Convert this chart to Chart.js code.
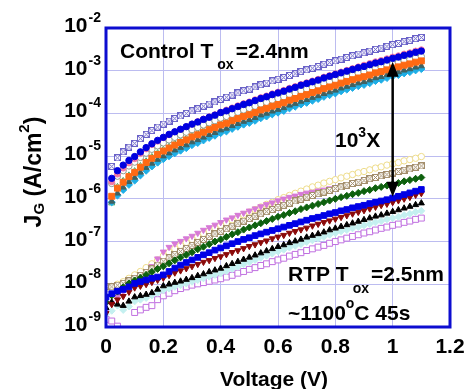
<!DOCTYPE html>
<html lang="en">
<head>
<meta charset="UTF-8">
<title>J_G vs Voltage</title>
<script src="https://cdn.jsdelivr.net/npm/chart.js"></script>
<style>
  body { margin: 0; background: #ffffff; }
  canvas { display: block; }
</style>
</head>
<body>
<canvas id="jgChart" width="471" height="389"></canvas>
<script>
// gate voltage (V)
const volts = [0, 0.02, 0.04, 0.06, 0.08, 0.1, 0.12, 0.14, 0.16, 0.18,
  0.2, 0.22, 0.24, 0.26, 0.28, 0.3, 0.32, 0.34, 0.36, 0.38,
  0.4, 0.42, 0.44, 0.46, 0.48, 0.5, 0.52, 0.54, 0.56, 0.58,
  0.6, 0.62, 0.64, 0.66, 0.68, 0.7, 0.72, 0.74, 0.76, 0.78,
  0.8, 0.82, 0.84, 0.86, 0.88, 0.9, 0.92, 0.94, 0.96, 0.98,
  1, 1.02, 1.04, 1.06, 1.08, 1.1];
const ctrlVolts = volts.slice(1); // control wafers start at 0.02 V

// log10 J_G (A/cm2) - control Tox = 2.4nm
const ctrlPurple = [-5.24, -5.04, -4.90, -4.79, -4.70, -4.59, -4.49, -4.40, -4.32, -4.25,
  -4.18, -4.12, -4.06, -4.00, -3.94, -3.89, -3.83, -3.78, -3.73, -3.67,
  -3.62, -3.57, -3.52, -3.47, -3.43, -3.38, -3.33, -3.29, -3.24, -3.20,
  -3.16, -3.11, -3.07, -3.02, -2.98, -2.94, -2.90, -2.85, -2.81, -2.77,
  -2.73, -2.69, -2.65, -2.61, -2.58, -2.54, -2.50, -2.47, -2.43, -2.39,
  -2.36, -2.32, -2.29, -2.25, -2.22];
const ctrlPink = [-5.60, -5.42, -5.28, -5.16, -5.06, -4.94, -4.83, -4.73, -4.65, -4.57,
  -4.50, -4.43, -4.37, -4.31, -4.25, -4.19, -4.13, -4.08, -4.03, -3.97,
  -3.92, -3.87, -3.82, -3.77, -3.73, -3.68, -3.63, -3.59, -3.54, -3.50,
  -3.46, -3.41, -3.37, -3.32, -3.28, -3.24, -3.20, -3.15, -3.11, -3.07,
  -3.03, -2.99, -2.95, -2.91, -2.87, -2.83, -2.79, -2.76, -2.72, -2.68,
  -2.65, -2.61, -2.58, -2.54, -2.51];
const ctrlBlue = [-5.52, -5.34, -5.21, -5.10, -5.01, -4.90, -4.80, -4.71, -4.63, -4.56,
  -4.49, -4.43, -4.37, -4.31, -4.25, -4.20, -4.14, -4.09, -4.04, -3.98,
  -3.94, -3.89, -3.84, -3.79, -3.75, -3.70, -3.65, -3.61, -3.56, -3.52,
  -3.48, -3.43, -3.39, -3.34, -3.30, -3.26, -3.22, -3.17, -3.13, -3.09,
  -3.05, -3.01, -2.97, -2.93, -2.90, -2.86, -2.82, -2.79, -2.75, -2.71,
  -2.68, -2.64, -2.61, -2.57, -2.54];
const ctrlOpenCircle = [-5.64, -5.47, -5.34, -5.23, -5.14, -5.03, -4.93, -4.84, -4.76, -4.69,
  -4.62, -4.56, -4.50, -4.44, -4.38, -4.33, -4.27, -4.22, -4.17, -4.11,
  -4.07, -4.02, -3.97, -3.92, -3.88, -3.83, -3.78, -3.74, -3.69, -3.65,
  -3.61, -3.56, -3.52, -3.47, -3.43, -3.39, -3.35, -3.30, -3.26, -3.22,
  -3.18, -3.14, -3.10, -3.06, -3.03, -2.99, -2.95, -2.92, -2.88, -2.84,
  -2.81, -2.77, -2.74, -2.70, -2.67];
const ctrlGreenTri = [-6.10, -5.72, -5.58, -5.45, -5.35, -5.23, -5.12, -5.02, -4.93, -4.85,
  -4.78, -4.71, -4.65, -4.59, -4.52, -4.47, -4.41, -4.35, -4.30, -4.24,
  -4.20, -4.14, -4.09, -4.04, -4.00, -3.95, -3.89, -3.85, -3.80, -3.76,
  -3.72, -3.66, -3.62, -3.57, -3.53, -3.48, -3.44, -3.39, -3.35, -3.31,
  -3.26, -3.22, -3.18, -3.14, -3.11, -3.07, -3.02, -2.99, -2.95, -2.91,
  -2.88, -2.84, -2.81, -2.77, -2.74];
const ctrlOrange = [-5.94, -5.75, -5.61, -5.48, -5.38, -5.26, -5.15, -5.05, -4.96, -4.88,
  -4.81, -4.74, -4.68, -4.62, -4.55, -4.50, -4.44, -4.38, -4.33, -4.27,
  -4.23, -4.17, -4.12, -4.07, -4.03, -3.98, -3.92, -3.88, -3.83, -3.79,
  -3.75, -3.69, -3.65, -3.60, -3.56, -3.51, -3.47, -3.42, -3.38, -3.34,
  -3.29, -3.25, -3.21, -3.17, -3.14, -3.10, -3.05, -3.02, -2.98, -2.94,
  -2.91, -2.87, -2.84, -2.80, -2.77];
const ctrlSlate = [-6.06, -5.87, -5.73, -5.60, -5.50, -5.38, -5.27, -5.17, -5.08, -5.00,
  -4.93, -4.86, -4.80, -4.74, -4.67, -4.62, -4.56, -4.50, -4.45, -4.39,
  -4.35, -4.29, -4.24, -4.19, -4.15, -4.10, -4.04, -4.00, -3.95, -3.91,
  -3.87, -3.81, -3.77, -3.72, -3.68, -3.63, -3.59, -3.54, -3.50, -3.46,
  -3.41, -3.37, -3.33, -3.29, -3.26, -3.22, -3.17, -3.14, -3.10, -3.06,
  -3.03, -2.99, -2.96, -2.92, -2.89];
const ctrlCyan = [-6.08, -5.92, -5.79, -5.67, -5.57, -5.45, -5.34, -5.24, -5.15, -5.07,
  -5.00, -4.93, -4.87, -4.81, -4.74, -4.69, -4.63, -4.57, -4.52, -4.46,
  -4.42, -4.36, -4.31, -4.26, -4.22, -4.17, -4.11, -4.07, -4.02, -3.98,
  -3.94, -3.88, -3.84, -3.79, -3.75, -3.70, -3.66, -3.61, -3.57, -3.53,
  -3.48, -3.44, -3.40, -3.36, -3.33, -3.29, -3.24, -3.21, -3.17, -3.13,
  -3.10, -3.06, -3.03, -2.99, -2.96];

// log10 J_G (A/cm2) - RTP Tox = 2.5nm
const rtpYellow = [-8.10, -8.05, -8.00, -7.94, -7.86, -7.78, -7.70, -7.61, -7.52, -7.43,
  -7.34, -7.25, -7.17, -7.09, -7.02, -6.95, -6.88, -6.81, -6.75, -6.68,
  -6.62, -6.56, -6.49, -6.43, -6.37, -6.31, -6.25, -6.19, -6.13, -6.08,
  -6.02, -5.97, -5.92, -5.87, -5.82, -5.77, -5.72, -5.68, -5.63, -5.59,
  -5.55, -5.51, -5.47, -5.43, -5.39, -5.36, -5.32, -5.28, -5.25, -5.21,
  -5.18, -5.15, -5.11, -5.08, -5.05, -5.01];
const rtpPink = [-8.62, -8.44, -8.28, -8.17, -8.08, -7.98, -7.88, -7.76, -7.58, -7.40,
  -7.24, -7.13, -7.05, -6.99, -6.93, -6.87, -6.80, -6.73, -6.67, -6.61,
  -6.55, -6.49, -6.44, -6.38, -6.33, -6.28, -6.23, -6.18, -6.13, -6.09,
  -6.04, -6.00, -5.96, -5.93, -5.89, -5.86, -5.84, -5.81, -5.79, -5.76,
  -5.74, -5.70, -5.66, -5.62, -5.59, -5.55, -5.51, -5.48, -5.44, -5.41,
  -5.38, -5.34, -5.31, -5.28, -5.24, -5.21];
const rtpTan = [-8.05, -8.06, -8.02, -7.98, -7.92, -7.86, -7.79, -7.72, -7.64, -7.55,
  -7.46, -7.38, -7.30, -7.23, -7.16, -7.09, -7.02, -6.95, -6.88, -6.82,
  -6.76, -6.70, -6.64, -6.58, -6.52, -6.46, -6.41, -6.35, -6.30, -6.25,
  -6.20, -6.15, -6.10, -6.05, -6.01, -5.96, -5.92, -5.88, -5.84, -5.80,
  -5.76, -5.72, -5.68, -5.64, -5.61, -5.57, -5.53, -5.50, -5.46, -5.43,
  -5.40, -5.36, -5.33, -5.30, -5.26, -5.23];
const rtpGreen = [-8.42, -8.26, -8.17, -8.07, -7.98, -7.91, -7.85, -7.78, -7.71, -7.64,
  -7.58, -7.51, -7.44, -7.37, -7.31, -7.25, -7.18, -7.12, -7.06, -7.00,
  -6.95, -6.89, -6.83, -6.78, -6.72, -6.67, -6.62, -6.57, -6.52, -6.47,
  -6.42, -6.38, -6.33, -6.29, -6.24, -6.20, -6.16, -6.12, -6.08, -6.04,
  -6.00, -5.96, -5.93, -5.89, -5.86, -5.82, -5.79, -5.75, -5.72, -5.69,
  -5.66, -5.63, -5.59, -5.56, -5.53, -5.50];
const rtpBlue = [-8.30, -8.22, -8.16, -8.12, -8.06, -7.98, -7.94, -7.90, -7.86, -7.83,
  -7.78, -7.70, -7.62, -7.55, -7.49, -7.43, -7.37, -7.31, -7.26, -7.20,
  -7.15, -7.10, -7.05, -7.00, -6.95, -6.91, -6.86, -6.82, -6.78, -6.74,
  -6.70, -6.66, -6.62, -6.58, -6.54, -6.50, -6.46, -6.43, -6.39, -6.35,
  -6.32, -6.28, -6.25, -6.21, -6.18, -6.15, -6.11, -6.08, -6.05, -6.02,
  -5.98, -5.94, -5.90, -5.86, -5.82, -5.78];
const rtpRed = [-8.68, -8.47, -8.36, -8.28, -8.18, -8.08, -8.04, -8.00, -7.95, -7.90,
  -7.85, -7.79, -7.73, -7.68, -7.63, -7.58, -7.53, -7.48, -7.44, -7.39,
  -7.35, -7.30, -7.25, -7.21, -7.16, -7.11, -7.07, -7.02, -6.98, -6.93,
  -6.89, -6.85, -6.80, -6.76, -6.72, -6.68, -6.63, -6.59, -6.55, -6.51,
  -6.47, -6.43, -6.39, -6.35, -6.31, -6.27, -6.23, -6.19, -6.15, -6.12,
  -6.08, -6.04, -6.00, -5.96, -5.91, -5.87];
const rtpBlack = [-8.55, -8.42, -8.47, -8.50, -8.40, -8.30, -8.27, -8.24, -8.20, -8.12,
  -8.04, -8.00, -7.96, -7.93, -7.89, -7.85, -7.80, -7.76, -7.71, -7.67,
  -7.63, -7.57, -7.52, -7.47, -7.42, -7.37, -7.32, -7.27, -7.22, -7.17,
  -7.12, -7.08, -7.03, -6.99, -6.95, -6.90, -6.86, -6.82, -6.78, -6.73,
  -6.69, -6.65, -6.61, -6.57, -6.53, -6.49, -6.45, -6.41, -6.38, -6.34,
  -6.30, -6.26, -6.22, -6.18, -6.14, -6.10];
const rtpCyan = [-8.70, -8.62, -8.50, -8.60, -8.52, -8.40, -8.36, -8.32, -8.26, -8.20,
  -8.14, -8.10, -8.06, -8.02, -7.98, -7.94, -7.90, -7.86, -7.82, -7.78,
  -7.74, -7.69, -7.64, -7.59, -7.53, -7.48, -7.43, -7.38, -7.33, -7.28,
  -7.23, -7.19, -7.14, -7.10, -7.06, -7.01, -6.97, -6.93, -6.89, -6.84,
  -6.80, -6.76, -6.73, -6.69, -6.66, -6.62, -6.59, -6.55, -6.52, -6.48,
  -6.45, -6.42, -6.38, -6.35, -6.31, -6.28];
const rtpPurple = [-8.82, -8.86, -8.98, -9.15, -9.25, -8.66, -8.60, -8.54, -8.50, -8.36,
  -8.27, -8.21, -8.15, -8.10, -8.06, -8.02, -7.99, -7.96, -7.93, -7.90,
  -7.87, -7.83, -7.79, -7.74, -7.70, -7.65, -7.61, -7.56, -7.52, -7.47,
  -7.43, -7.39, -7.34, -7.30, -7.26, -7.21, -7.17, -7.13, -7.09, -7.04,
  -7.00, -6.96, -6.92, -6.88, -6.84, -6.80, -6.77, -6.73, -6.69, -6.66,
  -6.62, -6.59, -6.55, -6.52, -6.48, -6.45];

// axes
const xTicks = [0, 0.2, 0.4, 0.6, 0.8, 1, 1.2];
const xTickLabels = ['0', '0.2', '0.4', '0.6', '0.8', '1', '1.2'];
const yExponents = [-2, -3, -4, -5, -6, -7, -8, -9];

// 10^3X arrow, at V = 1, from log J = -2.79 down to -5.95
const arrowV = 1.0;
const arrowTop = -2.79;
const arrowBottom = -5.95;

const FONT = '"Liberation Sans", Arial, sans-serif';
const bold = size => 'bold ' + size + 'px ' + FONT;

function crossSquare(color, size) {
    const c = document.createElement('canvas');
    c.width = size; c.height = size;
    const g = c.getContext('2d');
    g.fillStyle = '#ffffff';
    g.fillRect(0, 0, size, size);
    g.strokeStyle = color;
    g.lineWidth = 1;
    g.strokeRect(0.5, 0.5, size - 1, size - 1);
    g.beginPath();
    g.moveTo(1, 1); g.lineTo(size - 1, size - 1);
    g.moveTo(size - 1, 1); g.lineTo(1, size - 1);
    g.stroke();
    return c;
}

function series(vs, logs, style) {
    return Object.assign({
        data: logs.map((v, i) => ({ x: vs[i], y: Math.pow(10, v) })),
        showLine: false,
        borderWidth: 1,
        pointRadius: 3
    }, style);
}

// first dataset is drawn on top
const datasets = [
    // RTP
    series(volts, rtpBlue,   { pointStyle: 'rect', pointRadius: 4, backgroundColor: '#0000e6', borderColor: '#0000e6' }),
    series(volts, rtpRed,    { pointStyle: 'triangle', rotation: 180, pointRadius: 3.5, backgroundColor: '#8b0a0a', borderColor: '#8b0a0a' }),
    series(volts, rtpBlack,  { pointStyle: 'triangle', pointRadius: 3.5, backgroundColor: '#000000', borderColor: '#000000' }),
    series(volts, rtpGreen,  { pointStyle: 'rectRot', pointRadius: 3.5, backgroundColor: '#0d600d', borderColor: '#0d600d' }),
    series(volts, rtpTan,    { pointStyle: crossSquare('#a38e6c', 7) }),
    series(volts, rtpPink,   { pointStyle: 'triangle', rotation: 180, pointRadius: 3.5, backgroundColor: '#d77ad7', borderColor: '#d77ad7' }),
    series(volts, rtpYellow, { pointStyle: 'circle', pointRadius: 3.2, backgroundColor: '#ffffff', borderColor: '#eedc8a' }),
    series(volts, rtpCyan,   { pointStyle: 'rectRot', pointRadius: 3.5, backgroundColor: '#c4f0f0', borderColor: '#c4f0f0' }),
    series(volts, rtpPurple, { pointStyle: 'rect', pointRadius: 4.2, backgroundColor: '#ffffff', borderColor: '#c070e0' }),
    // control
    series(ctrlVolts, ctrlBlue,       { pointStyle: 'circle', pointRadius: 3.2, backgroundColor: '#0000e0', borderColor: '#0000e0' }),
    series(ctrlVolts, ctrlPink,       { pointStyle: 'circle', pointRadius: 3, backgroundColor: '#f27aa6', borderColor: '#f27aa6' }),
    series(ctrlVolts, ctrlPurple,     { pointStyle: crossSquare('#6a62c8', 7) }),
    series(ctrlVolts, ctrlOrange,     { pointStyle: 'rect', pointRadius: 4.2, backgroundColor: '#ff6a14', borderColor: '#ff6a14' }),
    series(ctrlVolts, ctrlSlate,      { pointStyle: 'triangle', pointRadius: 3.5, backgroundColor: '#3f6262', borderColor: '#3f6262' }),
    series(ctrlVolts, ctrlCyan,       { pointStyle: 'rectRot', pointRadius: 3.6, backgroundColor: '#1eaee6', borderColor: '#1eaee6' }),
    series(ctrlVolts, ctrlOpenCircle, { pointStyle: 'circle', pointRadius: 3.2, backgroundColor: '#ffffff', borderColor: '#8f9b90' }),
    series(ctrlVolts, ctrlGreenTri,   { pointStyle: 'triangle', pointRadius: 3.5, backgroundColor: '#ffffff', borderColor: '#4aa860' })
];

function runs(ctx, x, y, parts) {
    // parts: [text, size, dy, gapAfter]
    parts.forEach(p => {
        ctx.font = bold(p[1]);
        ctx.fillText(p[0], x, y + p[2]);
        x += ctx.measureText(p[0]).width + (p[3] || 0);
    });
}

const decorations = {
    id: 'decorations',
    afterDatasetsDraw(chart) {
        const ctx = chart.ctx, a = chart.chartArea;
        const xs = chart.scales.x, ys = chart.scales.y;
        ctx.save();

        // plot frame
        ctx.strokeStyle = '#0d0dd0';
        ctx.lineWidth = 3;
        ctx.strokeRect(a.left, a.top, a.right - a.left, a.bottom - a.top);

        ctx.fillStyle = '#000000';
        ctx.textBaseline = 'alphabetic';

        // y tick labels 10^n
        ctx.textAlign = 'right';
        yExponents.forEach(e => {
            const y = ys.getPixelForValue(Math.pow(10, e));
            ctx.font = bold(14);
            const ew = ctx.measureText(String(e)).width;
            ctx.fillText(String(e), 101, y - 6);
            ctx.font = bold(21);
            ctx.fillText('10', 101 - ew - 1, y + 4);
        });

        // x tick labels
        ctx.textAlign = 'center';
        ctx.font = bold(21);
        xTicks.forEach((v, i) => {
            ctx.fillText(xTickLabels[i], xs.getPixelForValue(v), 353);
        });

        // x title
        ctx.fillText('Voltage (V)', 274, 386);

        // y title, rotated
        ctx.save();
        ctx.translate(41, 172);
        ctx.rotate(-Math.PI / 2);
        ctx.textAlign = 'left';
        const yParts = [['J', 23, 0, 0], ['G', 15, 3, 0], [' (A/cm', 23, 0, 0], ['2', 15, -12, 0], [')', 23, 0, 0]];
        let w = 0;
        yParts.forEach(p => { ctx.font = bold(p[1]); w += ctx.measureText(p[0]).width; });
        runs(ctx, -w / 2, 0, yParts);
        ctx.restore();

        // annotations
        ctx.textAlign = 'left';
        runs(ctx, 120, 58, [['Control T', 21, 0, 4], ['ox', 14, 11, 2], ['=2.4nm', 21, 0]]);
        runs(ctx, 335, 147, [['10', 21, 0, 0], ['3', 14, -10, 0], ['X', 21, 0]]);
        runs(ctx, 288, 281, [['RTP T', 21, 0, 4], ['ox', 14, 12, 2], ['=2.5nm', 21, 0]]);
        runs(ctx, 288, 320, [['~1100', 21, 0, 0], ['o', 14, -12, 0], ['C 45s', 21, 0]]);

        // double arrow
        const ax = xs.getPixelForValue(arrowV);
        const y1 = ys.getPixelForValue(Math.pow(10, arrowTop));
        const y2 = ys.getPixelForValue(Math.pow(10, arrowBottom));
        const hw = 6, hl = 15;
        ctx.strokeStyle = '#000000';
        ctx.lineWidth = 2.5;
        ctx.beginPath();
        ctx.moveTo(ax, y1 + hl - 2);
        ctx.lineTo(ax, y2 - hl + 2);
        ctx.stroke();
        ctx.beginPath();
        ctx.moveTo(ax, y1); ctx.lineTo(ax - hw, y1 + hl); ctx.lineTo(ax + hw, y1 + hl); ctx.closePath();
        ctx.moveTo(ax, y2); ctx.lineTo(ax - hw, y2 - hl); ctx.lineTo(ax + hw, y2 - hl); ctx.closePath();
        ctx.fill();

        ctx.restore();
    }
};

new Chart(document.getElementById('jgChart'), {
    type: 'scatter',
    data: { datasets: datasets },
    options: {
        responsive: false,
        animation: false,
        devicePixelRatio: 1,
        layout: { padding: { left: 106, top: 28, right: 21, bottom: 62 } },
        scales: {
            x: {
                type: 'linear',
                min: 0,
                max: 1.2,
                afterBuildTicks: scale => { scale.ticks = xTicks.map(v => ({ value: v })); },
                ticks: { display: false },
                grid: { color: '#bcbcf0', lineWidth: 1, drawTicks: false },
                border: { display: false }
            },
            y: {
                type: 'logarithmic',
                min: 1e-9,
                max: 1e-2,
                afterBuildTicks: scale => { scale.ticks = yExponents.map(e => ({ value: Math.pow(10, e) })); },
                ticks: { display: false },
                grid: { color: '#bcbcf0', lineWidth: 1, drawTicks: false },
                border: { display: false }
            }
        },
        plugins: {
            legend: { display: false },
            tooltip: { enabled: false }
        }
    },
    plugins: [decorations]
});
</script>
</body>
</html>
